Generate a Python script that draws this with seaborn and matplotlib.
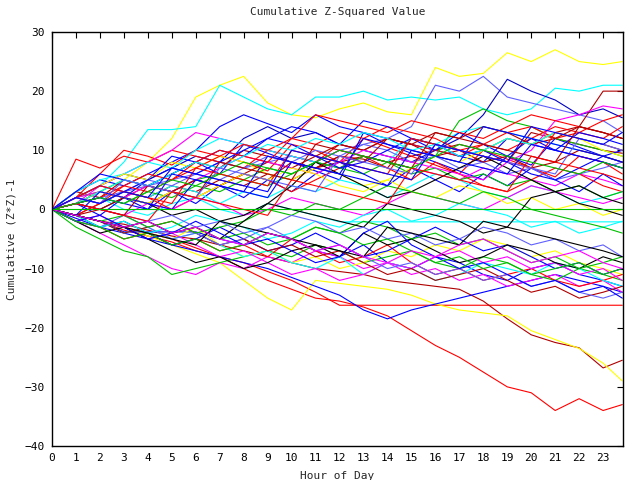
import matplotlib
matplotlib.use("Agg")
import matplotlib.pyplot as plt
import seaborn as sns
import pandas as pd

# ---- data (hourly samples) ----
hours = [0, 1, 2, 3, 4, 5, 6, 7, 8, 9, 10, 11, 12, 13, 14, 15, 16, 17, 18, 19, 20, 21, 22, 23, 23.8]
x_ticks = list(range(0, 24))
y_ticks = [-40, -30, -20, -10, 0, 10, 20, 30]

yellow_top = [0, 1, 3, 5, 8, 12, 19, 21, 22.5, 18, 16, 15.5, 17, 18, 16.5, 16, 24, 22.5, 23, 26.5, 25, 27, 25, 24.5, 25]
cyan_top = [0, 2, 4, 8, 13.5, 13.5, 14, 21, 19, 17, 16, 19, 19, 20, 18.5, 19, 18.5, 19, 17, 16, 17, 20.5, 20, 21, 21]
slate_top = [0, 1, 2, 3, 4, 5, 6, 5, 7, 8, 9, 8, 10, 11, 12, 14, 21, 20, 22.5, 19, 18, 17, 16, 15, 13]
navy_top = [0, 2, 4, 6, 5, 7, 9, 8, 12, 14, 12, 13, 11, 10, 9, 8, 10, 12, 16, 22, 20, 18.5, 16, 17, 15.5]
darkred_top = [0, -1, 1, 3, 2, 4, 3, 5, 4, 6, 5, 7, 8, 9, 8, 9, 10, 11, 10, 12, 11, 13, 14, 20, 20]
blue_early = [0, 3, 5, 4, 6, 8, 10, 14, 16, 14.5, 13, 16, 14, 13, 12, 11, 10, 9, 8, 12, 11, 10, 9, 8, 7]
red_early = [0, 8.5, 7, 9, 8, 10, 9, 8, 7, 10, 9, 8, 11, 10, 12, 11, 10, 9, 11, 10, 12, 14, 13, 12, 14]
red_2 = [0, 2, 6, 10, 9, 7.5, 10, 9, 8, 6.5, 11, 10, 8, 12, 10.5, 9, 7.5, 6, 10, 8.5, 7, 5.5, 9, 8, 6]
blue_3 = [0, 1, 3, 2, 5, 9, 8, 6, 11, 9.5, 8, 6.5, 5, 13, 11, 9.5, 8, 6.5, 5, 9, 7.5, 12, 10.5, 9, 8]
darkred_2 = [0, 3, 2, 5, 4, 6, 8, 7, 10, 9, 8, 7, 9, 8.5, 7, 12, 11, 10, 9, 8, 13, 12, 11, 10, 9.5]
magenta_1 = [0, 1, 4, 6, 8, 10, 13, 12, 11, 10, 9, 8, 10, 9, 8, 7, 6, 5, 7, 6, 5, 4, 6, 5, 4]
green_1 = [0, 2, 3, 5, 4, 3, 5, 6, 5, 4, 6, 8, 7, 6, 8, 7, 9, 15, 17, 15, 14, 12, 11, 10, 9]
cyan_2 = [0, 3, 5, 6, 8, 7, 10, 12, 11, 10, 9, 8, 7, 9, 8, 12, 11, 13, 14, 13, 12, 11, 10, 9, 8]
cyan_flat = [0, 1, 2, 0, -1, 1, 2, 0, -1, 1, 0, -1, -2.1, -2.1, -2.1, -2.1, -2.1, -2.1, -2.1, -2.1, -2.1, -2.1, -2.1, -2.1, -2.1]
green_flat = [0, 0, 0, 0, 0, 0, 0, 0, 0, 0, 0, 0, 0, 0, 0, 0, 0, 0, 0, 0, 0, 0, 0, 0, 0]
red_flat = [0, -1, -2, -3.5, -4.5, -5.5, -7, -8, -9, -10.5, -12, -14, -16.2, -16.2, -16.2, -16.2, -16.2, -16.2, -16.2, -16.2, -16.2, -16.2, -16.2, -16.2, -16.2]
red_low = [0, -1, -2, -3, -4, -5, -6.5, -8, -10, -12, -13.5, -15, -15.5, -16.5, -18, -20.5, -23, -25, -27.5, -30, -31, -34, -32, -34, -33]
darkred_low = [0, -1, -2, -2.5, -3.5, -4.5, -5, -6, -7, -8, -9, -10, -10.5, -11, -12, -12.5, -13, -13.5, -15.5, -18.5, -21.2, -22.5, -23.4, -26.8, -25.5]
yellow_low = [0, -1, -2, -3, -4.5, -6, -7.5, -9, -12, -15, -17, -12, -12.5, -13, -13.5, -14.5, -16, -17, -17.5, -18, -20.5, -22, -23.5, -26, -29]
blue_low = [0, -1.5, -3, -4, -5, -6, -7, -8, -9, -10, -11.5, -13, -14.5, -17, -18.5, -17, -16, -15, -14, -13, -12, -11, -12, -13, -14]
blue_flat = [0, -1, -2, -3.8, -3.8, -3.8, -3.8, -5, -6, -4, -5, -7, -8, -6, -9, -10, -8, -9, -11, -12, -10, -9, -11, -12, -13]
magenta_2 = [0, -2, -4, -6, -8, -10, -11, -9, -10, -8, -9, -7, -8, -10, -9, -11, -10, -12, -11, -13, -12, -11, -13, -12, -14]
green_2 = [0, -3, -5, -7, -8, -11, -10, -9, -8, -7, -8, -6, -7, -9, -8, -7, -9, -10, -8, -9, -11, -12, -10, -11, -12]
yellow_2 = [0, -1, -3, -2, -4, -5, -3, -6, -8, -7, -9, -8, -10, -9, -7, -8, -6, -7, -5, -6, -8, -7, -9, -10, -11]
red_3 = [0, -2, -3, -5, -4, -6, -5, -7, -6, -8, -5, -7, -9, -8, -6, -9, -11, -10, -12, -11, -10, -12, -13, -12, -11]
cyan_4 = [0, -1, -2, -4, -3, -5, -4, -6, -8, -7, -9, -10, -8, -11, -9, -10, -12, -11, -9, -10, -11, -9, -10, -12, -13]
magenta_3 = [0, -2, -1, -3, -5, -4, -6, -8, -7, -9, -11, -10, -12, -11, -9, -10, -8, -7, -9, -8, -10, -9, -11, -10, -12]
blue_4 = [0, -1, -3, -2, -4, -6, -5, -3, -5, -7, -6, -4, -6, -8, -7, -5, -3, -5, -7, -6, -8, -10, -9, -11, -10]
black_1 = [0, -2, -4, -3, -5, -7, -9, -8, -10, -9, -7, -6, -8, -4, -6, -5, -7, -9, -8, -6, -7, -9, -10, -8, -9]
green_3 = [0, -1, -2, -3, -2, -4, -3, -5, -4, -6, -5, -3, -4, -2, -3, -5, -4, -6, -5, -7, -9, -8, -10, -9, -8]
darkred_3 = [0, -1, -2, -4, -3, -2, -4, -6, -5, -7, -6, -8, -7, -9, -11, -10, -12, -11, -10, -12, -14, -13, -15, -14, -13]
slate_2 = [0, -2, -3, -1, -3, -5, -4, -6, -5, -3, -5, -7, -6, -8, -10, -9, -11, -10, -12, -11, -13, -12, -14, -15, -14]
blue_5 = [0, 1, -1, 2, 0, 3, 1, 4, 2, 5, 3, 6, 8, 6, 4, 7, 5, 3, 6, 4, 7, 5, 3, 6, 4]
red_4 = [0, -1, 1, 3, 2, 0, 2, 4, 6, 5, 3, 5, 7, 9, 7, 5, 8, 6, 4, 3, 5, 7, 6, 4, 3]
cyan_5 = [0, 2, 1, 3, 2, 4, 3, 1, 3, 2, 4, 3, 5, 4, 2, 4, 6, 5, 3, 2, 4, 3, 1, 2, 3]
magenta_4 = [0, 1, 0, -1, 1, 0, 2, 1, -1, 0, 2, 1, 0, -1, 1, 3, 2, 1, 0, 2, 4, 3, 2, 1, 2]
yellow_3 = [0, 2, 4, 6, 5, 8, 7, 9, 8, 6, 5, 7, 6, 4, 5, 3, 2, 4, 3, 1, 2, 0, 1, -1, 0]
green_4 = [0, 1, 2, 1, 3, 2, 4, 3, 5, 7, 6, 8, 7, 9, 8, 6, 7, 5, 6, 4, 5, 3, 4, 2, 3]
slate_3 = [0, 2, 1, 3, 5, 4, 6, 8, 7, 9, 8, 10, 9, 11, 10, 8, 9, 7, 8, 6, 7, 5, 6, 7, 8]
darkred_4 = [0, 1, 3, 2, 4, 3, 5, 4, 6, 8, 7, 9, 11, 10, 12, 11, 9, 10, 8, 9, 7, 8, 10, 9, 8]
blue_6 = [0, 2, 4, 3, 5, 7, 6, 8, 10, 12, 11, 9, 7, 8, 10, 12, 11, 9, 10, 8, 6, 5, 7, 9, 10]
red_5 = [0, 1, 2, 4, 3, 5, 7, 9, 11, 10, 12, 11, 13, 12, 14, 13, 12, 10, 11, 13, 14, 12, 13, 15, 16]
black_2 = [0, 1, 0, 2, 1, -1, 0, -2, -1, 1, 4, 8, 6, 4, 2, 3, 5, 7, 9, 7, 5, 3, 4, 2, 1]
cyan_6 = [0, -1, -3, -2, -4, -3, -1, -2, -3, -5, -4, -2, -3, -1, 0, -2, -1, 1, 0, -1, -3, -2, -4, -3, -2]
green_5 = [0, -1, -2, -1, -3, -2, -4, -3, -2, 0, -1, 1, 0, 2, 4, 3, 2, 1, 3, 2, 0, -1, -2, -3, -4]
magenta_5 = [0, 2, 3, 2, 4, 3, 5, 7, 9, 8, 7, 6, 8, 10, 9, 8, 7, 6, 5, 8, 10, 15, 16, 17.5, 17]
blue_7 = [0, 3, 6, 5, 4, 6, 8, 10, 9, 12, 14, 13, 11, 15, 14, 12, 10, 13, 11, 9, 12, 10, 13, 12, 11]
red_6 = [0, 2, 1, 4, 6, 5, 8, 10, 9, 8, 12, 16, 15, 14, 13, 15, 14, 13, 12, 14, 16, 15, 14, 13, 12]
darkred_5 = [0, -1, 0, 2, 1, 3, 5, 4, 6, 5, 8, 7, 9, 8, 12, 11, 13, 12, 14, 13, 11, 12, 14, 13, 12]
black_3 = [0, -1, -2, -3, -2, -4, -3, -5, -2, 1, 0, -1, -2, -3, 1, 0, -1, -2, -4, -3, 2, 3, 1, 0, -1]
blue_8 = [0, -2, -1, -3, -5, -4, -2, -4, -6, -5, -7, -9, -8, -4, -2, -6, -8, -10, -9, -11, -13, -12, -14, -13, -15]
yellow_4 = [0, 1, 3, 2, 1, 3, 2, 4, 6, 5, 7, 6, 4, 3, 5, 7, 9, 8, 10, 12, 11, 13, 12, 10, 9]
slate_4 = [0, 1, 0, -1, -2, -1, -3, -2, -4, -3, -1, -2, -4, -3, -5, -4, -6, -5, -3, -4, -6, -5, -7, -6, -8]
cyan_7 = [0, 1, 3, 5, 4, 6, 8, 7, 9, 11, 10, 12, 11, 13, 12, 10, 11, 9, 10, 12, 11, 13, 12, 11, 10]
green_6 = [0, -2, -3, -5, -4, -6, -5, -7, -6, -4, -5, -3, -4, -6, -5, -7, -9, -8, -10, -9, -11, -10, -9, -11, -10]
blue_9 = [0, 1, 2, 1, 0, 6, 5, 4, 3, 9, 8, 7, 6, 12, 11, 10, 9, 8, 14, 13, 12, 11, 10, 9, 8]
red_7 = [0, 2, 4, 3, 2, 1, 7, 6, 5, 4, 10, 9, 8, 7, 6, 12, 11, 10, 9, 8, 7, 13, 12, 11, 10]
darkred_6 = [0, 1, 0, -1, 4, 3, 2, 8, 7, 6, 5, 11, 10, 9, 8, 7, 13, 12, 11, 10, 9, 8, 14, 13, 12]
slate_5 = [0, 2, 1, 5, 4, 3, 2, 7, 6, 5, 4, 3, 9, 8, 7, 6, 11, 10, 9, 8, 7, 6, 12, 11, 10]
blue_10 = [0, -1, 3, 2, 1, 0, 5, 4, 3, 2, 8, 7, 6, 5, 4, 10, 9, 8, 7, 6, 11, 10, 9, 8, 7]
red_8 = [0, 1, 0, -1, -2, 3, 2, 1, 0, -1, 5, 4, 3, 2, 1, 7, 6, 5, 4, 3, 9, 8, 7, 6, 5]
black_4 = [0, -1, -2, -3, -4, -5, -6, -2, -3, -4, -5, -6, -7, -8, -3, -4, -5, -6, -2, -3, -4, -5, -6, -7, -8]
green_7 = [0, 1, 2, 1, 3, 5, 4, 6, 8, 7, 6, 8, 10, 9, 8, 7, 9, 11, 10, 9, 8, 7, 6, 8, 7]
magenta_6 = [0, -1, -2, -3, -2, -4, -3, -5, -6, -4, -5, -7, -6, -8, -9, -7, -8, -6, -5, -7, -9, -8, -7, -9, -10]
blue_11 = [0, 2, 1, 3, 2, 7, 6, 5, 4, 3, 10, 9, 8, 7, 6, 5, 11, 10, 9, 8, 14, 13, 12, 11, 13]

RED, GREEN, BLUE, MAGENTA, CYAN = "#ff0000", "#00c000", "#0000ff", "#ff00ff", "#00ffff"
DARKRED, YELLOW, SLATE, BLACK = "#b00000", "#ffff00", "#6060ff", "#000000"

series = [
    (yellow_top, YELLOW), (cyan_top, CYAN), (slate_top, SLATE), (navy_top, "#0000c0"),
    (darkred_top, DARKRED), (blue_early, BLUE), (red_early, RED), (red_2, RED),
    (blue_3, BLUE), (darkred_2, DARKRED), (magenta_1, MAGENTA), (green_1, GREEN),
    (cyan_2, CYAN), (cyan_flat, CYAN), (red_flat, RED), (red_low, RED),
    (darkred_low, DARKRED), (yellow_low, YELLOW), (blue_low, BLUE), (blue_flat, BLUE),
    (magenta_2, MAGENTA), (green_2, GREEN), (yellow_2, YELLOW), (red_3, RED),
    (cyan_4, CYAN), (magenta_3, MAGENTA), (blue_4, BLUE), (black_1, BLACK),
    (green_3, GREEN), (darkred_3, DARKRED), (slate_2, SLATE), (blue_5, BLUE),
    (red_4, RED), (cyan_5, CYAN), (magenta_4, MAGENTA), (yellow_3, YELLOW),
    (green_4, GREEN), (slate_3, SLATE), (darkred_4, DARKRED), (blue_6, BLUE),
    (red_5, RED), (black_2, BLACK), (cyan_6, CYAN), (green_5, GREEN),
    (magenta_5, MAGENTA), (blue_7, BLUE), (red_6, RED), (darkred_5, DARKRED),
    (black_3, BLACK), (blue_8, BLUE), (yellow_4, YELLOW), (slate_4, SLATE),
    (cyan_7, CYAN), (green_6, GREEN), (blue_9, BLUE), (red_7, RED),
    (darkred_6, DARKRED), (slate_5, SLATE), (blue_10, BLUE), (red_8, RED),
    (black_4, BLACK), (green_7, GREEN), (magenta_6, MAGENTA), (blue_11, BLUE),
    (green_flat, GREEN),
]

# ---- plot ----
sns.set_style("white")
plt.rcParams["font.family"] = ["DejaVu Sans Mono", "DejaVu Sans"]

fig = plt.figure(figsize=(6.4, 4.8), dpi=100)
ax = fig.add_axes([52 / 640, 1 - 446 / 480, (623 - 52) / 640, (446 - 32) / 480])

for vals, col in series:
    df = pd.DataFrame({"hour": hours, "value": vals})
    sns.lineplot(data=df, x="hour", y="value", color=col, linewidth=0.8,
                 estimator=None, sort=False, ax=ax, legend=False)

ax.set_xlim(0, 23.83)
ax.set_ylim(-40, 30)
ax.set_xticks(x_ticks)
ax.set_yticks(y_ticks)
ax.tick_params(direction="in", length=4.5, width=0.8, top=True, right=True,
               labelsize=8, colors="black", pad=5)
for s in ax.spines.values():
    s.set_visible(True)
    s.set_color("black")
    s.set_linewidth(1.0)

ax.set_title("Cumulative Z-Squared Value", fontsize=8, pad=12)
ax.set_xlabel("Hour of Day", fontsize=8, labelpad=6)
ax.set_ylabel("Cumulative (Z*Z)-1", fontsize=8, labelpad=6)

fig.savefig("out.png", dpi=100)
